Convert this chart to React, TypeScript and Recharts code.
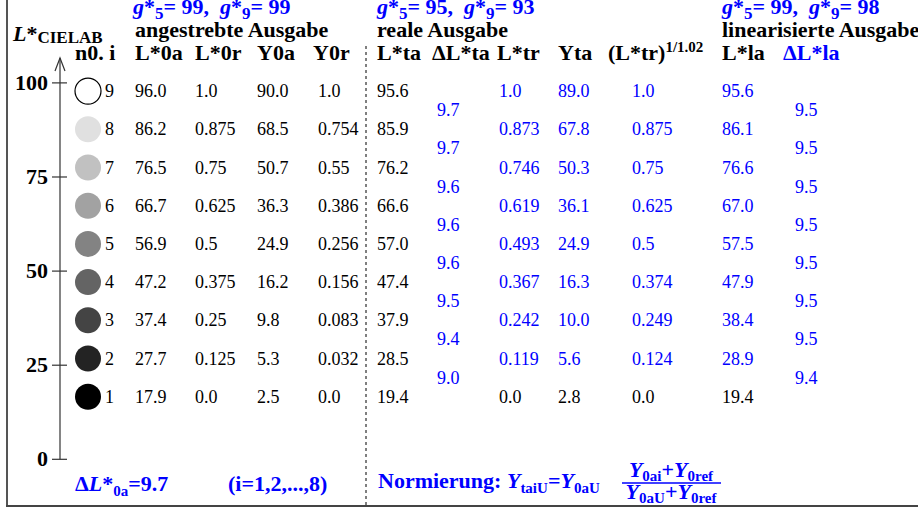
import * as React from 'react';
import { ScatterChart, Scatter, XAxis, YAxis, ReferenceLine } from 'recharts';

// row numbers i (bottom to top) and the table columns
const rowNo = [1, 2, 3, 4, 5, 6, 7, 8, 9];
const L0a = [17.9, 27.7, 37.4, 47.2, 56.9, 66.7, 76.5, 86.2, 96.0];
const L0r = [0.0, 0.125, 0.25, 0.375, 0.5, 0.625, 0.75, 0.875, 1.0];
const Y0a = [2.5, 5.3, 9.8, 16.2, 24.9, 36.3, 50.7, 68.5, 90.0];
const Y0r = [0.0, 0.032, 0.083, 0.156, 0.256, 0.386, 0.55, 0.754, 1.0];
const Lta = [19.4, 28.5, 37.9, 47.4, 57.0, 66.6, 76.2, 85.9, 95.6];
const dLta = [9.0, 9.4, 9.5, 9.6, 9.6, 9.6, 9.7, 9.7];
const Ltr = [0.0, 0.119, 0.242, 0.367, 0.493, 0.619, 0.746, 0.873, 1.0];
const Yta = [2.8, 5.6, 10.0, 16.3, 24.9, 36.1, 50.3, 67.8, 89.0];
const LtrPow = [0.0, 0.124, 0.249, 0.374, 0.5, 0.625, 0.75, 0.875, 1.0];
const Lla = [19.4, 28.9, 38.4, 47.9, 57.5, 67.0, 76.6, 86.1, 95.6];
const dLla = [9.4, 9.5, 9.5, 9.5, 9.5, 9.5, 9.5, 9.5];

const lTicks = [0, 25, 50, 75, 100];

// style
const W = 918;
const H = 507;
const BLUE = '#0000ff';
const FONT = '"Liberation Serif", "Times New Roman", serif';
const greys = ['#000000', '#232323', '#444444', '#646464', '#838383', '#a2a2a2', '#c1c1c1', '#e0e0e0', '#ffffff'];

const fmtL = (v: number) => v.toFixed(1);
const fmtR = (v: number) => (v === 0 || v === 1 ? v.toFixed(1) : String(v));
const black = () => '#000';
const blue = () => BLUE;
const blueTop = (k: number) => (k === 0 ? '#000' : BLUE);

interface Col {
  key: string;
  x: number;
  values: number[];
  fmt: (v: number) => string;
  color: (k: number) => string;
  between?: boolean;
}

const cols: Col[] = [
  { key: 'L0a', x: 135, values: L0a, fmt: fmtL, color: black },
  { key: 'L0r', x: 195, values: L0r, fmt: fmtR, color: black },
  { key: 'Y0a', x: 257, values: Y0a, fmt: fmtL, color: black },
  { key: 'Y0r', x: 318, values: Y0r, fmt: fmtR, color: black },
  { key: 'Lta', x: 377, values: Lta, fmt: fmtL, color: black },
  { key: 'dLta', x: 437, values: dLta, fmt: fmtL, color: blue, between: true },
  { key: 'Ltr', x: 499, values: Ltr, fmt: fmtR, color: blueTop },
  { key: 'Yta', x: 558, values: Yta, fmt: fmtL, color: blueTop },
  { key: 'LtrPow', x: 632, values: LtrPow, fmt: fmtR, color: blueTop },
  { key: 'Lla', x: 722, values: Lla, fmt: fmtL, color: blueTop },
  { key: 'dLla', x: 795, values: dLla, fmt: fmtL, color: blue, between: true },
];

const circleData = rowNo.map((n, k) => ({ x: 88, y: n, n, fill: greys[k] }));

const CellText = (props: any) => {
  const { cx, cy, payload } = props;
  return (
    <text x={cx} y={cy + 6} fontSize={18} fontFamily={FONT} fill={payload.color}>
      {payload.text}
    </text>
  );
};

const RowCircle = (props: any) => {
  const { cx, cy, payload } = props;
  return (
    <g>
      <circle
        cx={cx}
        cy={cy}
        r={13}
        fill={payload.fill}
        stroke={payload.n === 9 ? '#000' : 'none'}
        strokeWidth={1.2}
      />
      <text x={cx + 17} y={cy + 6} fontSize={18} fontFamily={FONT} fill="#000">
        {payload.n}
      </text>
    </g>
  );
};

const LTick = (props: any) => {
  const { x, y, payload } = props;
  return (
    <g>
      <line x1={x - 8} x2={x + 7} y1={y} y2={y} stroke="#333" strokeWidth={1.2} />
      <text x={x - 12} y={y + 7} textAnchor="end" fontSize={22} fontWeight="bold" fontFamily={FONT} fill="#000">
        {payload.value}
      </text>
    </g>
  );
};

const GHead = ({ x, a, b }: { x: number; a: number; b: number }) => (
  <text x={x} y={14} fontSize={22} fontWeight="bold" fontFamily={FONT} fill={BLUE}>
    <tspan fontStyle="italic">g</tspan>
    <tspan>*</tspan>
    <tspan dy={5} fontSize={17}>5</tspan>
    <tspan dy={-5}>{`= ${a},\u00a0 `}</tspan>
    <tspan fontStyle="italic">g</tspan>
    <tspan>*</tspan>
    <tspan dy={5} fontSize={17}>9</tspan>
    <tspan dy={-5}>{`= ${b}`}</tspan>
  </text>
);

const Overlay = () => {
  const hb = { fontSize: 22, fontWeight: 'bold' as const, fontFamily: FONT, fill: '#000' };
  const fb = { fontSize: 22, fontWeight: 'bold' as const, fontFamily: FONT, fill: BLUE };
  return (
    <svg width={W} height={H} style={{ position: 'absolute', left: 0, top: 0, pointerEvents: 'none' }}>
      <line x1={7} x2={7} y1={0} y2={H} stroke="#555" strokeWidth={2} />
      <line x1={6} x2={W} y1={506} y2={506} stroke="#444" strokeWidth={2} />
      <line x1={366} x2={366} y1={46} y2={506} stroke="#000" strokeWidth={1} strokeDasharray="3 3" />
      <polyline points="55,71 60,58 65,71" fill="none" stroke="#333" strokeWidth={1.2} />

      <text x={13} y={41} {...hb}>
        <tspan fontStyle="italic">L</tspan>
        <tspan>*</tspan>
        <tspan fontSize={17} dy={2}>CIELAB</tspan>
      </text>

      <GHead x={133} a={99} b={99} />
      <GHead x={377} a={95} b={93} />
      <GHead x={722} a={99} b={98} />

      <text x={135} y={37} {...hb}>angestrebte Ausgabe</text>
      <text x={377} y={37} {...hb}>reale Ausgabe</text>
      <text x={722} y={37} {...hb}>linearisierte Ausgabe</text>

      <text x={75} y={60} {...hb}>n0. i</text>
      <text x={135} y={60} {...hb}>L*0a</text>
      <text x={195} y={60} {...hb}>L*0r</text>
      <text x={257} y={60} {...hb}>Y0a</text>
      <text x={313} y={60} {...hb}>Y0r</text>
      <text x={377} y={60} {...hb}>L*ta</text>
      <text x={432} y={60} {...hb}>ΔL*ta</text>
      <text x={497} y={60} {...hb}>L*tr</text>
      <text x={558} y={60} {...hb}>Yta</text>
      <text x={608} y={60} {...hb}>
        (L*tr)<tspan fontSize={15} dy={-8}>1/1.02</tspan>
      </text>
      <text x={722} y={60} {...hb}>L*la</text>
      <text x={783} y={60} {...hb} fill={BLUE}>ΔL*la</text>

      <text x={75} y={491} {...fb}>
        Δ<tspan fontStyle="italic">L</tspan>*<tspan fontSize={15} dy={5}>0a</tspan>
        <tspan dy={-5}>=9.7</tspan>
      </text>
      <text x={228} y={491} {...fb}>(i=1,2,...,8)</text>
      <text x={378} y={488} {...fb}>
        Normierung: <tspan fontStyle="italic">Y</tspan>
        <tspan fontSize={15} dy={5}>taiU</tspan>
        <tspan dy={-5}>=</tspan>
        <tspan fontStyle="italic">Y</tspan>
        <tspan fontSize={15} dy={5}>0aU</tspan>
      </text>
      <text x={671} y={477} {...fb} textAnchor="middle">
        <tspan fontStyle="italic">Y</tspan>
        <tspan fontSize={15} dy={4}>0ai</tspan>
        <tspan dy={-4}>+</tspan>
        <tspan fontStyle="italic">Y</tspan>
        <tspan fontSize={15} dy={4}>0ref</tspan>
      </text>
      <line x1={622} x2={721} y1={483} y2={483} stroke={BLUE} strokeWidth={1.5} />
      <text x={671} y={499} {...fb} textAnchor="middle">
        <tspan fontStyle="italic">Y</tspan>
        <tspan fontSize={15} dy={4}>0aU</tspan>
        <tspan dy={-4}>+</tspan>
        <tspan fontStyle="italic">Y</tspan>
        <tspan fontSize={15} dy={4}>0ref</tspan>
      </text>
    </svg>
  );
};

export default function App() {
  return (
    <div style={{ position: 'relative', width: W, height: H, background: '#fff' }}>
      <style>{'body{margin:0}'}</style>
      <ScatterChart width={W} height={H} margin={{ top: 0, right: 0, bottom: 0, left: 0 }}>
        <XAxis type="number" dataKey="x" domain={[60, 918]} hide allowDataOverflow />
        <YAxis
          yAxisId="L"
          type="number"
          domain={[-12.67, 122.02]}
          ticks={lTicks}
          interval={0}
          width={60}
          axisLine={false}
          tickLine={false}
          tickSize={0}
          tickMargin={0}
          tick={<LTick />}
          allowDataOverflow
        />
        <YAxis yAxisId="row" type="number" dataKey="y" domain={[-1.887, 11.385]} hide allowDataOverflow />
        <ReferenceLine
          yAxisId="L"
          segment={[{ x: 60, y: 0 }, { x: 60, y: 106.6 }]}
          stroke="#333"
          strokeWidth={1.2}
        />
        <Scatter yAxisId="row" data={circleData} shape={<RowCircle />} isAnimationActive={false} />
        {cols.map((c) => (
          <Scatter
            key={c.key}
            yAxisId="row"
            data={c.values.map((v, k) => ({
              x: c.x,
              y: rowNo[k] + (c.between ? 0.5 : 0),
              text: c.fmt(v),
              color: c.color(k),
            }))}
            shape={<CellText />}
            isAnimationActive={false}
          />
        ))}
      </ScatterChart>
      <Overlay />
    </div>
  );
}
